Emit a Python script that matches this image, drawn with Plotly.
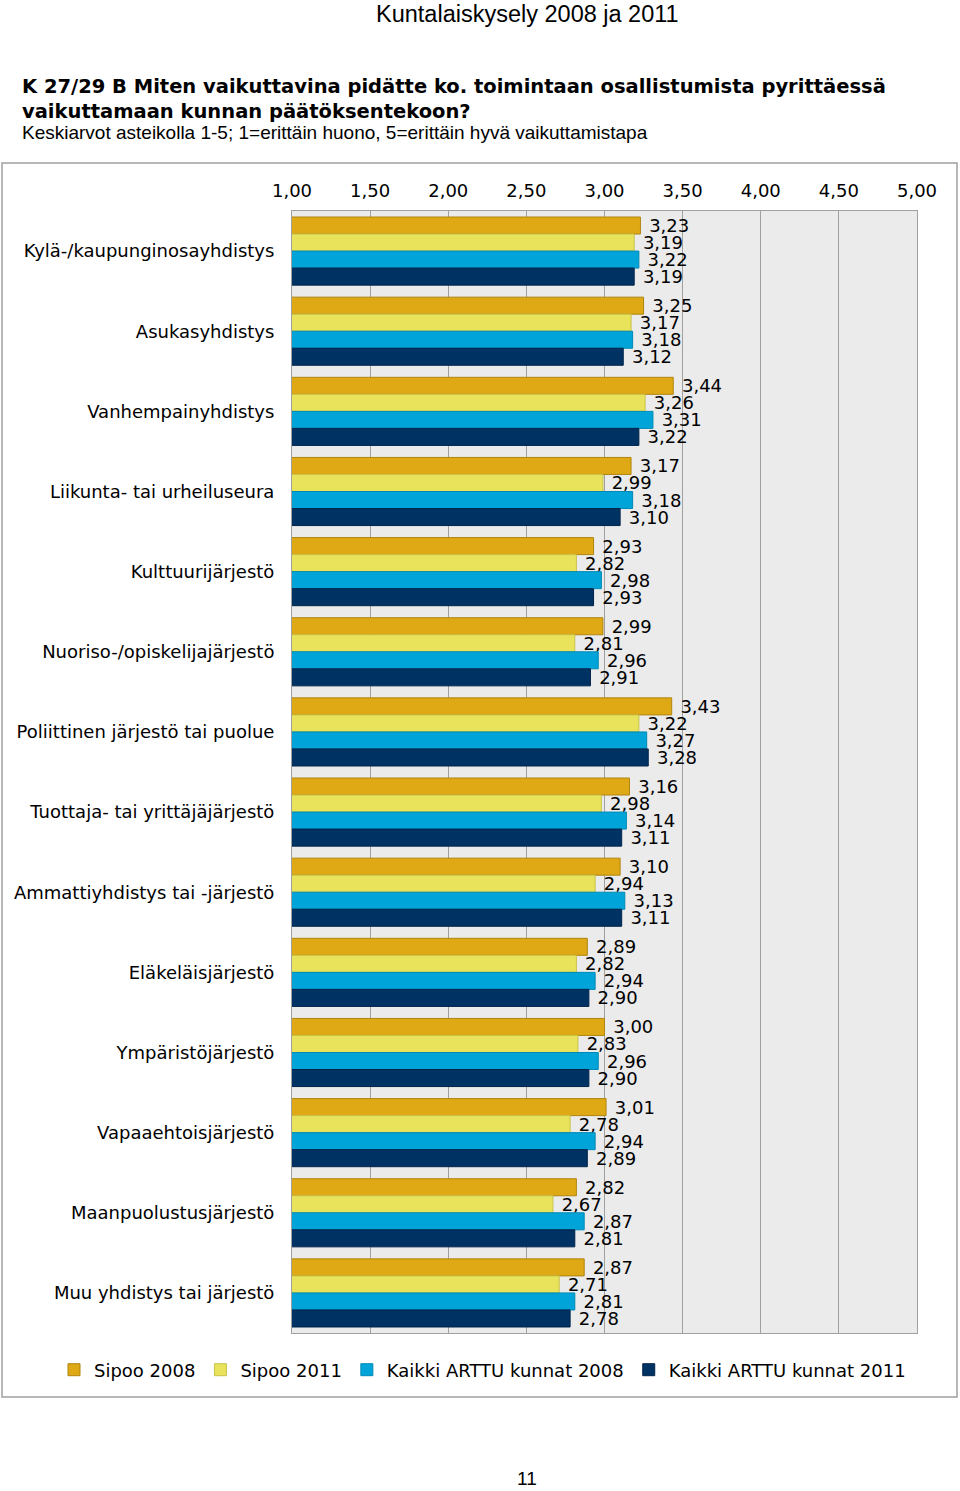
import plotly.graph_objects as go

categories = [
    "Kylä-/kaupunginosayhdistys",
    "Asukasyhdistys",
    "Vanhempainyhdistys",
    "Liikunta- tai urheiluseura",
    "Kulttuurijärjestö",
    "Nuoriso-/opiskelijajärjestö",
    "Poliittinen järjestö tai puolue",
    "Tuottaja- tai yrittäjäjärjestö",
    "Ammattiyhdistys tai -järjestö",
    "Eläkeläisjärjestö",
    "Ympäristöjärjestö",
    "Vapaaehtoisjärjestö",
    "Maanpuolustusjärjestö",
    "Muu yhdistys tai järjestö",
]

sipoo_2008 = [3.23, 3.25, 3.44, 3.17, 2.93, 2.99, 3.43, 3.16, 3.10, 2.89, 3.00, 3.01, 2.82, 2.87]
sipoo_2011 = [3.19, 3.17, 3.26, 2.99, 2.82, 2.81, 3.22, 2.98, 2.94, 2.82, 2.83, 2.78, 2.67, 2.71]
arttu_2008 = [3.22, 3.18, 3.31, 3.18, 2.98, 2.96, 3.27, 3.14, 3.13, 2.94, 2.96, 2.94, 2.87, 2.81]
arttu_2011 = [3.19, 3.12, 3.22, 3.10, 2.93, 2.91, 3.28, 3.11, 3.11, 2.90, 2.90, 2.89, 2.81, 2.78]

series_names = ["Sipoo 2008", "Sipoo 2011", "Kaikki ARTTU kunnat 2008", "Kaikki ARTTU kunnat 2011"]
series_values = [sipoo_2008, sipoo_2011, arttu_2008, arttu_2011]
series_colors = ["#DEA914", "#E8E35A", "#00A4D8", "#003264"]
series_edges = ["#B08510", "#C9C24A", "#0089B5", "#00244A"]

tick_vals = [1.0, 1.5, 2.0, 2.5, 3.0, 3.5, 4.0, 4.5, 5.0]

W, H = 960, 1491
PL, PR, PT, PB = 292, 917, 211, 1333
pw, ph = PR - PL, PB - PT


def px(x):
    return (x - PL) / pw


def py(y):
    return (PB - y) / ph


CHART_FONT = "DejaVu Sans, Verdana, sans-serif"
PAGE_FONT = "Liberation Sans, Arial, sans-serif"

fig = go.Figure()
for name, vals, col, edge in zip(series_names, series_values, series_colors, series_edges):
    fig.add_trace(go.Bar(
        y=categories, x=vals, name=name, orientation="h",
        marker=dict(color=col, line=dict(color=edge, width=1)),
        texttemplate="\u00a0%{x:.2f}", textposition="outside",
        textfont=dict(family=CHART_FONT, size=18, color="#000000"),
        cliponaxis=False, constraintext="none",
    ))

fig.update_layout(
    width=W, height=H,
    margin=dict(l=PL, r=W - PR, t=PT, b=H - PB, pad=0),
    paper_bgcolor="white", plot_bgcolor="#EBEBEB",
    barmode="group", bargap=0.15, bargroupgap=0,
    separators=", ",
    font=dict(family=CHART_FONT, size=18, color="#000000"),
    showlegend=True,
    legend=dict(
        orientation="h", x=px(54), xanchor="left",
        y=py(1370), yanchor="middle",
        font=dict(family=CHART_FONT, size=18, color="#000000"),
        bgcolor="rgba(0,0,0,0)", traceorder="normal",
        itemwidth=30, tracegroupgap=0,
    ),
)

fig.update_xaxes(
    range=[1, 5], side="top", tickvals=tick_vals, tickformat=".2f",
    showgrid=True, gridcolor="#A0A0A0", gridwidth=1,
    showline=True, linecolor="#A0A0A0", linewidth=1, mirror=True,
    ticks="outside", ticklen=6, tickcolor="rgba(0,0,0,0)",
    tickfont=dict(family=CHART_FONT, size=18, color="#000000"),
    zeroline=False, fixedrange=True,
)
fig.update_yaxes(
    autorange="reversed", showgrid=False,
    showline=True, linecolor="#A0A0A0", linewidth=1, mirror=True,
    ticks="outside", ticklen=13, tickcolor="rgba(0,0,0,0)",
    tickfont=dict(family=CHART_FONT, size=18, color="#000000"),
    fixedrange=True,
)

# outer chart frame
fig.add_shape(type="rect", xref="paper", yref="paper",
              x0=px(2), x1=px(957), y0=py(1397), y1=py(163),
              line=dict(color="#A0A0A0", width=1.5), fillcolor="rgba(0,0,0,0)", layer="below")

fig.add_annotation(text="Kuntalaiskysely 2008 ja 2011", xref="paper", yref="paper",
                   x=px(527), y=py(14), xanchor="center", yanchor="middle", showarrow=False,
                   font=dict(family=PAGE_FONT, size=23.5, color="#000000"))
fig.add_annotation(text="<b>K 27/29 B Miten vaikuttavina pidätte ko. toimintaan osallistumista pyrittäessä</b>",
                   xref="paper", yref="paper", x=px(20), y=py(87), xanchor="left", yanchor="middle",
                   showarrow=False, font=dict(family=CHART_FONT, size=19.5, color="#000000"))
fig.add_annotation(text="<b>vaikuttamaan kunnan päätöksentekoon?</b>",
                   xref="paper", yref="paper", x=px(20), y=py(111), xanchor="left", yanchor="middle",
                   showarrow=False, font=dict(family=CHART_FONT, size=19.5, color="#000000"))
fig.add_annotation(text="Keskiarvot asteikolla 1-5; 1=erittäin huono, 5=erittäin hyvä vaikuttamistapa",
                   xref="paper", yref="paper", x=px(20), y=py(132), xanchor="left", yanchor="middle",
                   showarrow=False, font=dict(family=PAGE_FONT, size=19, color="#000000"))
fig.add_annotation(text="11", xref="paper", yref="paper", x=px(527), y=py(1478),
                   xanchor="center", yanchor="middle", showarrow=False,
                   font=dict(family=PAGE_FONT, size=19, color="#000000"))

fig.write_html("out.html", config={"displayModeBar": False},
               post_script="document.body.style.margin='0';")
